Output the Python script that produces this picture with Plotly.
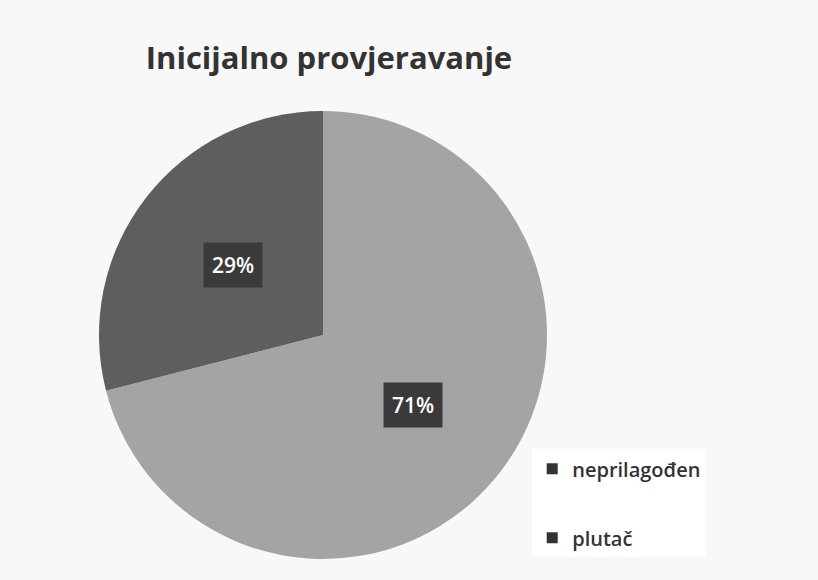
import math
import plotly.graph_objects as go

title_text = "Inicijalno provjeravanje"
categories = ["neprilagođen", "plutač"]
values = [71, 29]
slice_colors = ["#a4a4a4", "#5e5e5e"]

fig = go.Figure()
fig.add_trace(go.Pie(
    labels=categories, values=values, sort=False, direction="clockwise", rotation=0,
    marker=dict(colors=slice_colors, line=dict(width=0)),
    textinfo="none", hoverinfo="label+percent", showlegend=False,
    domain=dict(x=[0, 1], y=[0, 1]),
))

# legend swatches (dark squares as in the reference)
for cat in categories:
    fig.add_trace(go.Scatter(
        x=[None], y=[None], mode="markers", name=cat, legendgroup=cat,
        marker=dict(symbol="square", size=11, color="#333333"),
    ))

# data labels placed at the middle of each slice, half radius
total = sum(values)
cum = 0
annotations = []
for v in values:
    mid = (cum + v / 2) / total * 2 * math.pi
    cum += v
    ax = 0.5 + 0.255 * math.sin(mid)
    ay = 0.5 + 0.255 * math.cos(mid)
    annotations.append(dict(
        x=ax, y=ay, xref="paper", yref="paper", showarrow=False,
        xanchor="center", yanchor="middle",
        text=f"{round(v / total * 100)}%",
        font=dict(family="Open Sans", size=21, color="white", weight=600),
        bgcolor="#3a3a3a", borderpad=8,
    ))

fig.update_layout(
    width=818, height=580,
    paper_bgcolor="#f8f8f8", plot_bgcolor="rgba(0,0,0,0)",
    margin=dict(l=99, r=271, t=111, b=21),
    title=dict(text=f"<b>{title_text}</b>", x=0.5 * (146 + 512) / 818, xanchor="center",
               y=1 - 58 / 580, yanchor="middle",
               font=dict(family="Open Sans", size=31, color="#333333")),
    xaxis=dict(visible=False), yaxis=dict(visible=False),
    showlegend=True,
    legend=dict(x=0.967, y=0.245, xanchor="left", yanchor="top",
                bgcolor="#ffffff", tracegroupgap=40,
                font=dict(family="Open Sans", size=20, color="#333333", weight=600),
                itemwidth=30),
    annotations=annotations,
)

fig.write_html("out.html", config={"displayModeBar": False},
               post_script="document.body.style.margin='0';")
